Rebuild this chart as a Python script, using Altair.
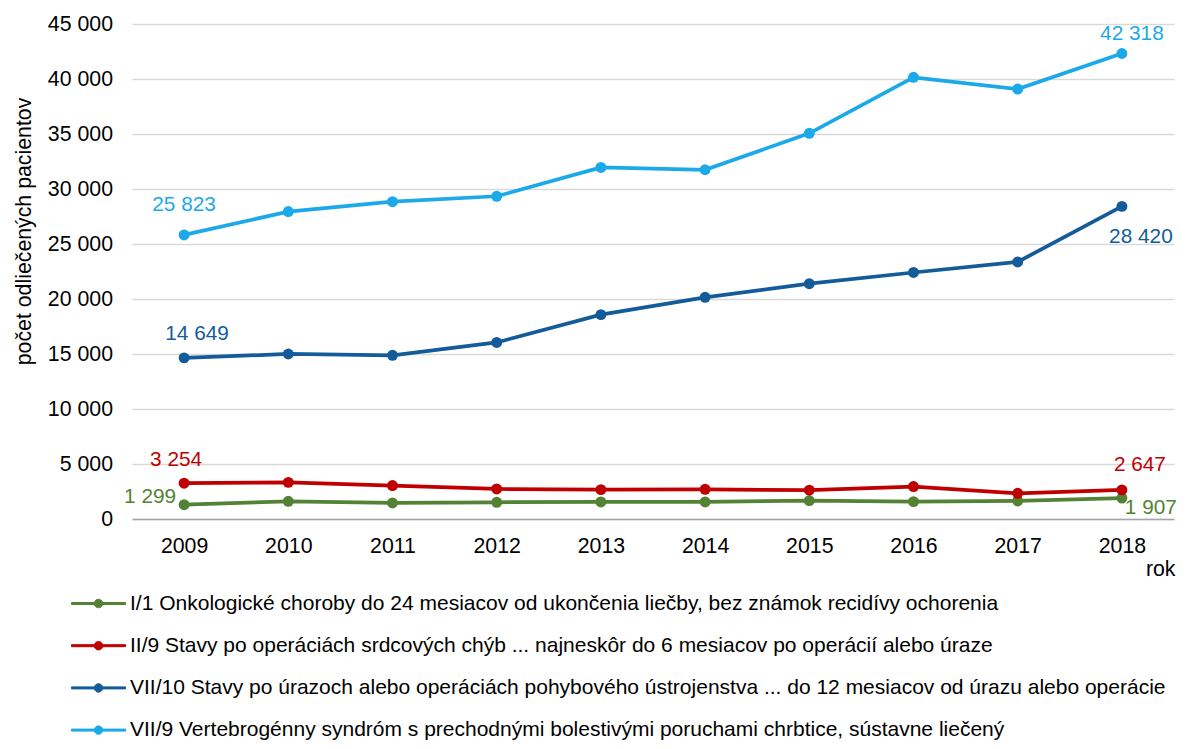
import math
import altair as alt
import pandas as pd

years = ["2009", "2010", "2011", "2012", "2013", "2014", "2015", "2016", "2017", "2018"]

series = [
    "I/1 Onkologické choroby do 24 mesiacov od ukončenia liečby, bez známok recidívy ochorenia",
    "II/9 Stavy po operáciách srdcových chýb ... najneskôr do 6 mesiacov po operácií alebo úraze",
    "VII/10 Stavy po úrazoch alebo operáciách pohybového ústrojenstva ... do 12 mesiacov od úrazu alebo operácie",
    "VII/9 Vertebrogénny syndróm s prechodnými bolestivými poruchami chrbtice, sústavne liečený",
]

onko = [1299, 1610, 1460, 1520, 1550, 1550, 1670, 1580, 1640, 1907]
srdce = [3254, 3330, 3040, 2730, 2670, 2700, 2620, 2950, 2340, 2647]
urazy = [14649, 15000, 14880, 16050, 18580, 20150, 21390, 22410, 23370, 28420]
chrbtica = [25823, 27950, 28850, 29340, 31960, 31750, 35060, 40150, 39090, 42318]

colors = ["#548235", "#C00000", "#135C99", "#1CA9E9"]

rows = []
for s, vals in zip(series, [onko, srdce, urazy, chrbtica]):
    for yr, v in zip(years, vals):
        rows.append({"rok": yr, "seria": s, "hodnota": v,
                     "popis": f"{v:,}".replace(",", " ")})
df = pd.DataFrame(rows)

FONT = "Liberation Sans"
FS = 21.3
LFS = 20.8
LEGFS = 21.0

# legend glyph (line with a dot), polygon-only path, offset right of the symbol centre
_dot = " ".join(
    f"{'M' if k == 0 else 'L'}{2 + 0.47 * math.cos(2 * math.pi * k / 20):.3f},{0.47 * math.sin(2 * math.pi * k / 20):.3f}"
    for k in range(20)
)
legend_path = "M-1,-0.111 L5,-0.111 L5,0.111 L-1,0.111 Z " + _dot + " Z"

legend_def = alt.Legend(
    title=None, orient="none", direction="vertical",
    legendX=-62, legendY=569,
    symbolType=legend_path, symbolSize=324, symbolStrokeWidth=1,
    labelFontSize=LEGFS, labelFont=FONT, labelColor="#000000",
    labelLimit=1150, labelOffset=39, rowPadding=20.2,
)

x_enc = alt.X(
    "rok:O",
    scale=alt.Scale(type="point", padding=0.5),
    axis=alt.Axis(
        title="rok", labelAngle=0, labelFontSize=FS, labelColor="#000000",
        labelPadding=16, ticks=False, tickSize=0, grid=False,
        domainColor="#a6a6a6", domainWidth=1.3,
        titleX=1043, titleY=56.5, titleAlign="right", titleBaseline="alphabetic",
        titleAngle=0, titleFontSize=FS, titleFontWeight="normal", titleColor="#000000",
        labelFont=FONT, titleFont=FONT,
    ),
)

y_enc = alt.Y(
    "hodnota:Q",
    scale=alt.Scale(domain=[0, 45000], nice=False),
    axis=alt.Axis(
        title="počet odliečených pacientov",
        values=list(range(0, 45001, 5000)),
        labelExpr="replace(format(datum.value, ','), ',', ' ')",
        labelFontSize=FS, labelColor="#000000", labelPadding=19.5,
        ticks=False, tickSize=0, domain=False,
        grid=True, gridColor="#d9d9d9", gridWidth=1.3,
        titleX=-102, titleY=207, titleAngle=270, titleAlign="center",
        titleBaseline="alphabetic", titleFontSize=FS, titleFontWeight="normal",
        titleColor="#000000", labelFont=FONT, titleFont=FONT,
    ),
)

color_enc = alt.Color(
    "seria:N",
    scale=alt.Scale(domain=series, range=colors),
    sort=series,
    legend=legend_def,
)

base = alt.Chart(df)

points = base.mark_point(filled=True, size=120, opacity=1).encode(x=x_enc, y=y_enc, color=color_enc)
lines = base.mark_line(strokeWidth=3.75).encode(x=x_enc, y=y_enc, color=color_enc)

label_specs = [
    (3, "2009", 0, -30, "center"),
    (3, "2018", 10, -20, "center"),
    (2, "2009", 13, -24, "center"),
    (2, "2018", 19, 31, "center"),
    (1, "2009", -8, -23, "center"),
    (1, "2018", 18, -25, "center"),
    (0, "2009", -8, -8, "right"),
    (0, "2018", 55, 10, "right"),
]

label_layers = []
for idx, yr, dx, dy, align in label_specs:
    lay = base.transform_filter(
        (alt.datum.seria == series[idx]) & (alt.datum.rok == yr)
    ).mark_text(
        dx=dx, dy=dy, align=align, baseline="middle",
        fontSize=LFS, font=FONT, color=colors[idx],
    ).encode(x=x_enc, y=y_enc, text="popis:N")
    label_layers.append(lay)

chart = alt.layer(points, lines, *label_layers).properties(
    width=1042,
    height=495,
    autosize=alt.AutoSizeParams(type="none"),
    padding={"left": 124, "top": 16, "right": 4, "bottom": 222},
).configure(font=FONT).configure_view(stroke=None)

chart.save("out.html", embed_options={"renderer": "svg", "actions": False})
